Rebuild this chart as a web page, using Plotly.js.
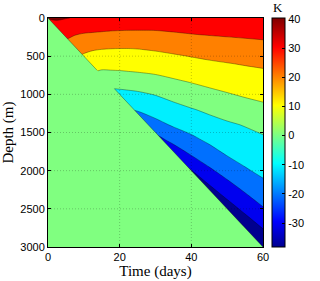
<!DOCTYPE html>
<html>
<head>
<meta charset="utf-8">
<script src="https://cdn.plot.ly/plotly-3.0.1.min.js"></script>
<style>
html,body{margin:0;padding:0;background:#fff;}
#chart{width:320px;height:281px;}
</style>
</head>
<body>
<div id="chart"></div>
<script>
// ---- data ----
const timeDays = [0, 2.5, 5, 7.5, 10, 12.5, 15, 17.5, 20, 22.5, 25, 30, 35, 40, 45, 50, 55, 60];
const depthM = [0, 100, 200, 300, 400, 500, 600, 700, 800, 900, 1000, 1200, 1400, 1600, 1800, 2000, 2200, 2400, 2600, 2800, 3000];

// temperature anomaly (K) profiles, one per time column, one value per depth
const tempDay0    = [40.5, 36.5, 32.5, 0, 0, 0, 0, 0, 0, 0, 0, 0, 0, 0, 0, 0, 0, 0, 0, 0, 0];
const tempDay2_5  = [41.2, 37.3, 33.5, 29.7, 0, 0, 0, 0, 0, 0, 0, 0, 0, 0, 0, 0, 0, 0, 0, 0, 0];
const tempDay5    = [40.3, 36.6, 33.0, 29.3, 25.6, 0, 0, 0, 0, 0, 0, 0, 0, 0, 0, 0, 0, 0, 0, 0, 0];
const tempDay7_5  = [39.6, 35.2, 30.9, 27.5, 24.2, 21.0, 0, 0, 0, 0, 0, 0, 0, 0, 0, 0, 0, 0, 0, 0, 0];
const tempDay10   = [39.0, 34.5, 30.0, 26.1, 22.3, 18.8, 15.3, 11.8, 0, 0, 0, 0, 0, 0, 0, 0, 0, 0, 0, 0, 0];
const tempDay12_5 = [38.5, 34.2, 29.5, 25.2, 21.0, 17.4, 14.0, 10.5, 7.0, 0, 0, 0, 0, 0, 0, 0, 0, 0, 0, 0, 0];
const tempDay15   = [38.0, 33.5, 29.1, 24.8, 20.4, 16.6, 13.0, 9.2, 5.8, 2.4, 0, 0, 0, 0, 0, 0, 0, 0, 0, 0, 0];
const tempDay17_5 = [37.5, 33.0, 28.7, 24.4, 20.1, 16.5, 13.0, 9.4, 5.7, 1.1, -2.8, 0, 0, 0, 0, 0, 0, 0, 0, 0, 0];
const tempDay20   = [37.2, 32.8, 28.5, 24.3, 20.0, 16.6, 13.1, 9.6, 5.6, 1.3, -2.6, -10.2, 0, 0, 0, 0, 0, 0, 0, 0, 0];
const tempDay22_5 = [37.0, 32.6, 28.4, 24.2, 20.0, 16.7, 13.3, 10.0, 6.1, 1.9, -2.2, -10.0, -17.5, 0, 0, 0, 0, 0, 0, 0, 0];
const tempDay25   = [36.9, 32.5, 28.4, 24.3, 20.2, 17.0, 13.7, 10.4, 6.5, 2.4, -1.5, -9.2, -16.9, -24.0, 0, 0, 0, 0, 0, 0, 0];
const tempDay30   = [36.8, 32.6, 28.5, 24.8, 21.1, 17.8, 14.6, 11.4, 7.9, 4.2, 0.4, -5.7, -13.1, -24.2, -33.0, 0, 0, 0, 0, 0, 0];
const tempDay35   = [36.8, 33.1, 29.4, 25.9, 22.4, 19.0, 16.0, 12.9, 9.8, 6.4, 3.1, -3.1, -8.9, -17.0, -28.1, -38.0, 0, 0, 0, 0, 0];
const tempDay40   = [36.9, 33.6, 30.3, 27.0, 23.6, 20.3, 17.4, 14.4, 11.5, 8.5, 5.5, -0.6, -6.1, -12.3, -20.0, -30.3, -38.0, -38.0, 0, 0, 0];
const tempDay45   = [37.2, 34.0, 30.9, 27.8, 24.6, 21.5, 18.6, 15.9, 13.1, 10.4, 7.5, 1.7, -3.4, -8.3, -14.5, -21.7, -30.6, -38.0, -38.0, 0, 0];
const tempDay50   = [37.5, 34.4, 31.4, 28.4, 25.4, 22.5, 19.6, 17.1, 14.6, 12.0, 9.4, 3.9, -1.3, -5.5, -9.8, -16.0, -22.9, -30.9, -38.0, -38.0, 0];
const tempDay55   = [37.8, 34.9, 31.9, 29.0, 26.2, 23.4, 20.6, 18.1, 15.8, 13.4, 11.1, 5.9, 0.5, -3.3, -7.0, -11.0, -17.0, -23.7, -31.2, -38.0, -38.0];
const tempDay60   = [38.0, 35.2, 32.4, 29.6, 26.9, 24.2, 21.5, 19.0, 16.8, 14.6, 12.4, 7.7, 2.7, -1.5, -4.8, -8.0, -12.1, -17.6, -24.2, -31.4, -38.2];

// the cold front: below this line the anomaly is 0 K
const frontDays = [0, 60];
const frontDepth = [0, 3000];
// parts of the front where the band edge is drawn (not where the 0..10 K band meets it)
const frontEdgeDays = [0, 13.7, null, 18.6, 60];
const frontEdgeDepth = [0, 685, null, 930, 3000];

const contourLevels = {start: -30, end: 40, size: 10};
const colorRange = [-38.2, 40.3];
const xTicks = [0, 20, 40, 60];
const yTicks = [0, 500, 1000, 1500, 2000, 2500, 3000];
const cbTicks = [-30, -20, -10, 0, 10, 20, 30, 40];

// ---- styling ----
const bandColors = [
  [0, 'rgb(0,0,143)'], [0.125, 'rgb(0,0,239)'], [0.25, 'rgb(0,112,255)'],
  [0.375, 'rgb(0,239,255)'], [0.5, 'rgb(128,255,128)'], [0.625, 'rgb(255,255,0)'],
  [0.75, 'rgb(255,128,0)'], [0.875, 'rgb(255,0,0)'], [1, 'rgb(128,0,0)']
];
const jet = [
  [0, 'rgb(0,0,143)'], [0.111, 'rgb(0,0,255)'], [0.365, 'rgb(0,255,255)'],
  [0.619, 'rgb(255,255,0)'], [0.873, 'rgb(255,0,0)'], [1, 'rgb(128,0,0)']
];
const zeroBand = 'rgb(128,255,128)';
const edgeColor = 'rgba(0,0,0,0.55)';
const sans = 'Liberation Sans, Arial, sans-serif';
const serif = 'Liberation Serif, Times New Roman, serif';

const tempByTime = [tempDay0, tempDay2_5, tempDay5, tempDay7_5, tempDay10, tempDay12_5, tempDay15,
  tempDay17_5, tempDay20, tempDay22_5, tempDay25, tempDay30, tempDay35, tempDay40, tempDay45,
  tempDay50, tempDay55, tempDay60];

const traces = [
  {
    type: 'contour', x: timeDays, y: depthM, z: tempByTime, transpose: true,
    autocontour: false,
    contours: {start: contourLevels.start, end: contourLevels.end, size: contourLevels.size, coloring: 'fill', showlines: true},
    colorscale: bandColors, showscale: false,
    line: {color: edgeColor, width: 0.6, smoothing: 0.8},
    hoverinfo: 'skip'
  },
  {
    type: 'scatter', mode: 'lines',
    x: [frontDays[0], frontDays[1], frontDays[0]],
    y: [frontDepth[0], frontDepth[1], frontDepth[1]],
    fill: 'toself', fillcolor: zeroBand, line: {width: 0, color: zeroBand},
    hoverinfo: 'skip', showlegend: false
  },
  {
    type: 'scatter', mode: 'lines', x: frontEdgeDays, y: frontEdgeDepth,
    line: {width: 0.6, color: edgeColor}, connectgaps: false,
    hoverinfo: 'skip', showlegend: false
  },
  {
    type: 'scatter', mode: 'markers', x: [timeDays[0], timeDays[0]], y: [depthM[0], depthM[0]],
    marker: {
      size: 1, opacity: 0, color: colorRange, cmin: colorRange[0], cmax: colorRange[1],
      colorscale: jet, showscale: true,
      colorbar: {
        x: 1.04, xanchor: 'left', y: 0.5, yanchor: 'middle',
        len: 1, lenmode: 'fraction', thickness: 13, thicknessmode: 'pixels',
        xpad: 0, ypad: 0, outlinewidth: 1, outlinecolor: '#000',
        tickmode: 'array', tickvals: cbTicks, ticktext: cbTicks.map(String),
        ticks: 'inside', ticklen: 3, tickcolor: '#000',
        tickfont: {family: sans, size: 11, color: '#000'}
      }
    },
    hoverinfo: 'skip', showlegend: false
  }
];

const gridLine = {color: 'rgba(0,0,0,0.22)', width: 1, dash: '1px,2px'};
const gridShapes = [];
xTicks.slice(1, -1).forEach(v => gridShapes.push({type: 'line', xref: 'x', yref: 'paper', x0: v, x1: v, y0: 0, y1: 1, layer: 'above', line: gridLine}));
yTicks.slice(1, -1).forEach(v => gridShapes.push({type: 'line', xref: 'paper', yref: 'y', x0: 0, x1: 1, y0: v, y1: v, layer: 'above', line: gridLine}));

const axisCommon = {
  ticks: 'inside', ticklen: 3, tickcolor: '#000', showline: true, mirror: 'ticks',
  linecolor: '#000', linewidth: 1, showgrid: false, zeroline: false, automargin: false,
  tickfont: {family: sans, size: 11, color: '#000'}, layer: 'above traces'
};

const layout = {
  width: 320, height: 281,
  margin: {l: 48, r: 46, t: 18, b: 34, pad: 0},
  paper_bgcolor: '#fff', plot_bgcolor: '#fff',
  showlegend: false,
  xaxis: Object.assign({}, axisCommon, {
    range: [0, 60], tickmode: 'array', tickvals: xTicks,
    title: {text: 'Time (days)', font: {family: serif, size: 15, color: '#000'}, standoff: 3}
  }),
  yaxis: Object.assign({}, axisCommon, {
    range: [3000, 0], tickmode: 'array', tickvals: yTicks,
    title: {text: 'Depth (m)', font: {family: serif, size: 15, color: '#000'}, standoff: 6}
  }),
  shapes: gridShapes,
  annotations: [{
    text: 'K', xref: 'paper', yref: 'paper', x: 1.07, y: 1.045, xanchor: 'center', yanchor: 'middle',
    showarrow: false, font: {family: serif, size: 13, color: '#000'}
  }]
};

Plotly.newPlot('chart', traces, layout, {staticPlot: true, displayModeBar: false});
</script>
</body>
</html>
